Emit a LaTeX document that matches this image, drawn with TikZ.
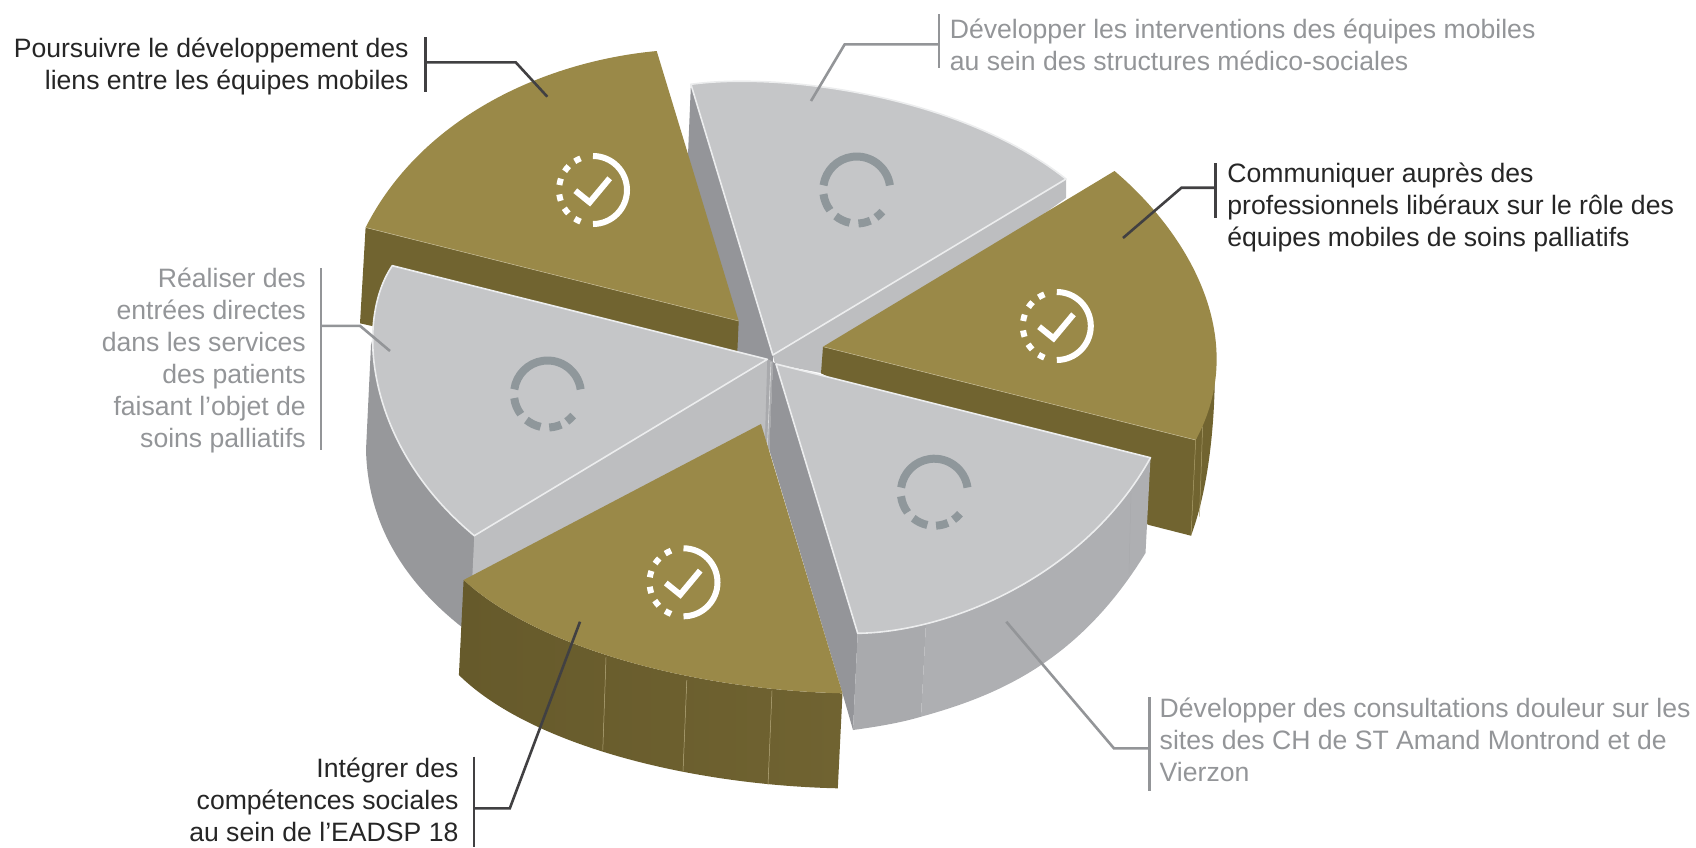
\documentclass[tikz,border=0pt]{standalone}
\usepackage{fontspec}
\setmainfont{Liberation Sans}
\usepackage{xcolor}
\usetikzlibrary{calc}

\definecolor{olivetop}{HTML}{9A8948}
\definecolor{oliveside}{HTML}{716430}
\definecolor{olivedark}{HTML}{665A2B}
\definecolor{olivefront}{HTML}{706331}
\definecolor{greytop}{HTML}{C5C6C8}
\definecolor{greyrim}{HTML}{ECEDEE}
\definecolor{greycut}{HTML}{949599}
\definecolor{greyface}{HTML}{BDBEC0}
\definecolor{greyouter}{HTML}{97989B}
\definecolor{greyfront}{HTML}{AEAFB2}
\definecolor{greyfrontb}{HTML}{A9AAAD}
\definecolor{greyicon}{HTML}{8F979B}
\definecolor{inkdark}{HTML}{414042}
\definecolor{inkgrey}{HTML}{939598}

\tikzset{
    slicetop/.style={fill=greytop, draw=greyrim, line width=1.6pt, line join=round},
    seam/.style={line width=0.5pt},
    leaderdark/.style={draw=inkdark, line width=2.6pt},
    leadergrey/.style={draw=inkgrey, line width=2.6pt},
    labeltext/.style={inner sep=0pt, font=\fontsize{26.6}{32}\selectfont},
    labeldark/.style={labeltext, text=black!85},
    labelgrey/.style={labeltext, text=inkgrey},
    doneline/.style={draw=white, line width=6pt},
    openline/.style={draw=greyicon, line width=8pt}
}

\begin{document}
\begin{tikzpicture}[x=1pt,y=-1pt]
    \useasboundingbox (0,0) rectangle (1696,847);

    % Top grey slice
    \fill[greycut] (690.9,84.3) -- (772.8,355) -- (773,362) -- (767,360) -- (737,352) -- (682,300) -- cycle;
    \fill[greyface] (772.8,355) -- (1066,179) -- (1066,198) -- (821,373) -- (775,364) -- cycle;
    \draw[slicetop] (772.8,355) -- (690.9,84.3) .. controls (780,72) and (960,95) .. (1066,179) -- cycle;

    % Top left olive slice
    \fill[oliveside] (365.6,227.5) -- (738.7,321) -- (737.3,352) -- (372,326) -- (360,323.3) -- cycle;
    \fill[olivetop] (738.7,321) -- (365.6,227.5) .. controls (420,120) and (540,62) .. (656.7,51) -- cycle;
    \draw[seam, olivetop!60!white] (365.6,227.5) -- (738.7,321);

    % Left grey slice
    \fill[greyouter] (392.3,265.7) -- (371,345) -- (366,450) .. controls (368,530) and (410,590) .. (475,637) -- (474.3,535.7) -- cycle;
    \fill[greyface] (767.3,359.3) -- (474.3,535.7) -- (471.7,590) -- (769.3,450) -- (773,362) -- cycle;
    \fill[greyfrontb] (767.3,359.3) -- (773,362) -- (769.3,450) -- (765,437) -- cycle;
    \draw[greytop!60!white, line width=0.6pt] (771,362) -- (767.5,445);
    \draw[slicetop] (767.3,359.3) -- (392.3,265.7) .. controls (355,320) and (365,445) .. (474.3,535.7) -- cycle;

    % Right olive slice
    \fill[oliveside] (1195.7,440) -- (1214.8,380) .. controls (1214,430) and (1208,490) .. (1191,535.7) -- (1149,525) -- (821,373.3) -- (823,346.7) -- cycle;
    \fill[olivetop] (823,346.7) -- (1114.5,171) .. controls (1190,235) and (1250,340) .. (1195.7,440) -- cycle;
    \draw[seam, olivetop!60!white] (823,346.7) -- (1195.7,440);
    \draw[seam, olivetop!80!white] (1195.7,440) -- (1191,535.7);
    \draw[seam, olivetop!80!white] (1202.6,426.7) -- (1199.5,516.7);

    % Bottom right grey slice
    \fill[greycut] (776,364) -- (857.7,633.3) -- (853,730) -- (842.5,693.3) -- (769.3,450) -- (773,362) -- cycle;
    \fill[greyfrontb] (857.7,633.3) -- (926,623) -- (921,716.7) .. controls (900,723) and (875,727) .. (853,730) -- cycle;
    \fill[greyfront] (926,623) .. controls (1010,600) and (1100,540) .. (1150.5,457.7) -- (1145.5,553) .. controls (1080,660) and (1000,695) .. (921,716.7) -- cycle;
    \draw[slicetop] (776,364) -- (1150.5,457.7) .. controls (1085,576) and (950,632) .. (857.7,633.3) -- cycle;
    \draw[seam, greyfrontb] (1131,493) -- (1129,573);

    % Bottom olive slice
    \shade[left color=olivedark, right color=olivefront] (463.6,580) .. controls (540,650) and (700,690) .. (842.5,693.3) -- (837.8,788.3) .. controls (690,785) and (530,745) .. (458.9,675) -- cycle;
    \fill[olivetop] (842.5,693.3) -- (761,424) -- (463.6,580) .. controls (540,650) and (700,690) .. (842.5,693.3) -- cycle;
    \foreach \sx/\sy/\tx/\ty in {606/657.3/602.8/750, 686.8/680/683/771.7, 772/690.7/768/785} {
        \draw[seam, olivetop!70!white] (\sx,\sy) -- (\tx,\ty);
    }

    % Finished marks
    \foreach \cx/\cy in {593/190, 1056.8/326, 683.5/582.3} {
        \begin{scope}[shift={(\cx,\cy)},yscale=-1]
            \draw[doneline] (90:34) arc[start angle=90,end angle=-90,radius=34];
            \foreach \a in {117,141,166,193,218,243} {
                \draw[doneline] (\a-5.5:34) arc[start angle=\a-5.5,end angle=\a+5.5,radius=34];
            }
            \draw[doneline, line join=miter] (-17.7,-0.7) -- (-3.3,-12.3) -- (16.7,11.7);
        \end{scope}
    }

    % Open marks
    \foreach \cx/\cy in {856.7/190, 547.5/394, 934.3/492.2} {
        \begin{scope}[shift={(\cx,\cy)},yscale=-1]
            \foreach \a/\b in {8/172, 187/217, 231/258, 273/294, 305/320} {
                \draw[openline] (\a:33.5) arc[start angle=\a,end angle=\b,radius=33.5];
            }
        \end{scope}
    }

    % Labels
    \node[labeldark, anchor=east, align=right] (liens) at (408.8,66.8) {Poursuivre le développement des\\liens entre les équipes mobiles};
    \node[labelgrey, anchor=west, align=left] (structures) at (949.7,45.3) {Développer les interventions des équipes mobiles\\au sein des structures médico-sociales};
    \node[labeldark, anchor=west, align=left] (liberaux) at (1227.2,207) {Communiquer auprès des\\professionnels libéraux sur le rôle des\\équipes mobiles de soins palliatifs};
    \node[labelgrey, anchor=east, align=right] (entrees) at (306,360) {Réaliser des\\entrées directes\\dans les services\\des patients\\faisant l’objet de\\soins palliatifs};
    \node[labelgrey, anchor=west, align=left] (douleur) at (1159.5,739.8) {Développer des consultations douleur sur les\\sites des CH de ST Amand Montrond et de\\Vierzon};
    \node[labeldark, anchor=east, align=right] (sociales) at (458.6,799.4) {Intégrer des\\compétences sociales\\au sein de l’EADSP 18};

    % Leaders
    \coordinate (lienstip) at (547.3,96.7);
    \coordinate (lienselbow) at (515.7,62.3);
    \coordinate (liensbar) at (425.3,62.3);
    \draw[leaderdark] (425.3,37.3) -- (425.3,92.3);
    \draw[leaderdark] (lienstip) -- (lienselbow) -- (liensbar);

    \coordinate (structurestip) at (811,101);
    \coordinate (structureselbow) at (844.7,44.3);
    \coordinate (structuresbar) at (938.8,44.3);
    \draw[leadergrey] (938.8,14) -- (938.8,68);
    \draw[leadergrey] (structurestip) -- (structureselbow) -- (structuresbar);

    \coordinate (liberauxtip) at (1123,238);
    \coordinate (liberauxelbow) at (1181.5,187.7);
    \coordinate (liberauxbar) at (1215.5,187.7);
    \draw[leaderdark] (1215.5,163) -- (1215.5,218);
    \draw[leaderdark] (liberauxtip) -- (liberauxelbow) -- (liberauxbar);

    \coordinate (entreestip) at (390,351);
    \coordinate (entreeselbow) at (360,325.8);
    \coordinate (entreesbar) at (321,325.8);
    \draw[leadergrey] (321,268) -- (321,450);
    \draw[leadergrey] (entreestip) -- (entreeselbow) -- (entreesbar);

    \coordinate (douleurtip) at (1006.3,621.7);
    \coordinate (douleurelbow) at (1113.9,748.3);
    \coordinate (douleurbar) at (1149.3,748.3);
    \draw[leadergrey] (1149.3,697.3) -- (1149.3,791);
    \draw[leadergrey] (douleurtip) -- (douleurelbow) -- (douleurbar);

    \coordinate (socialestip) at (580,621.7);
    \coordinate (socialeselbow) at (509.8,808.3);
    \coordinate (socialesbar) at (474,808.3);
    \draw[leaderdark] (474,756.7) -- (474,847);
    \draw[leaderdark] (socialestip) -- (socialeselbow) -- (socialesbar);
\end{tikzpicture}
\end{document}
